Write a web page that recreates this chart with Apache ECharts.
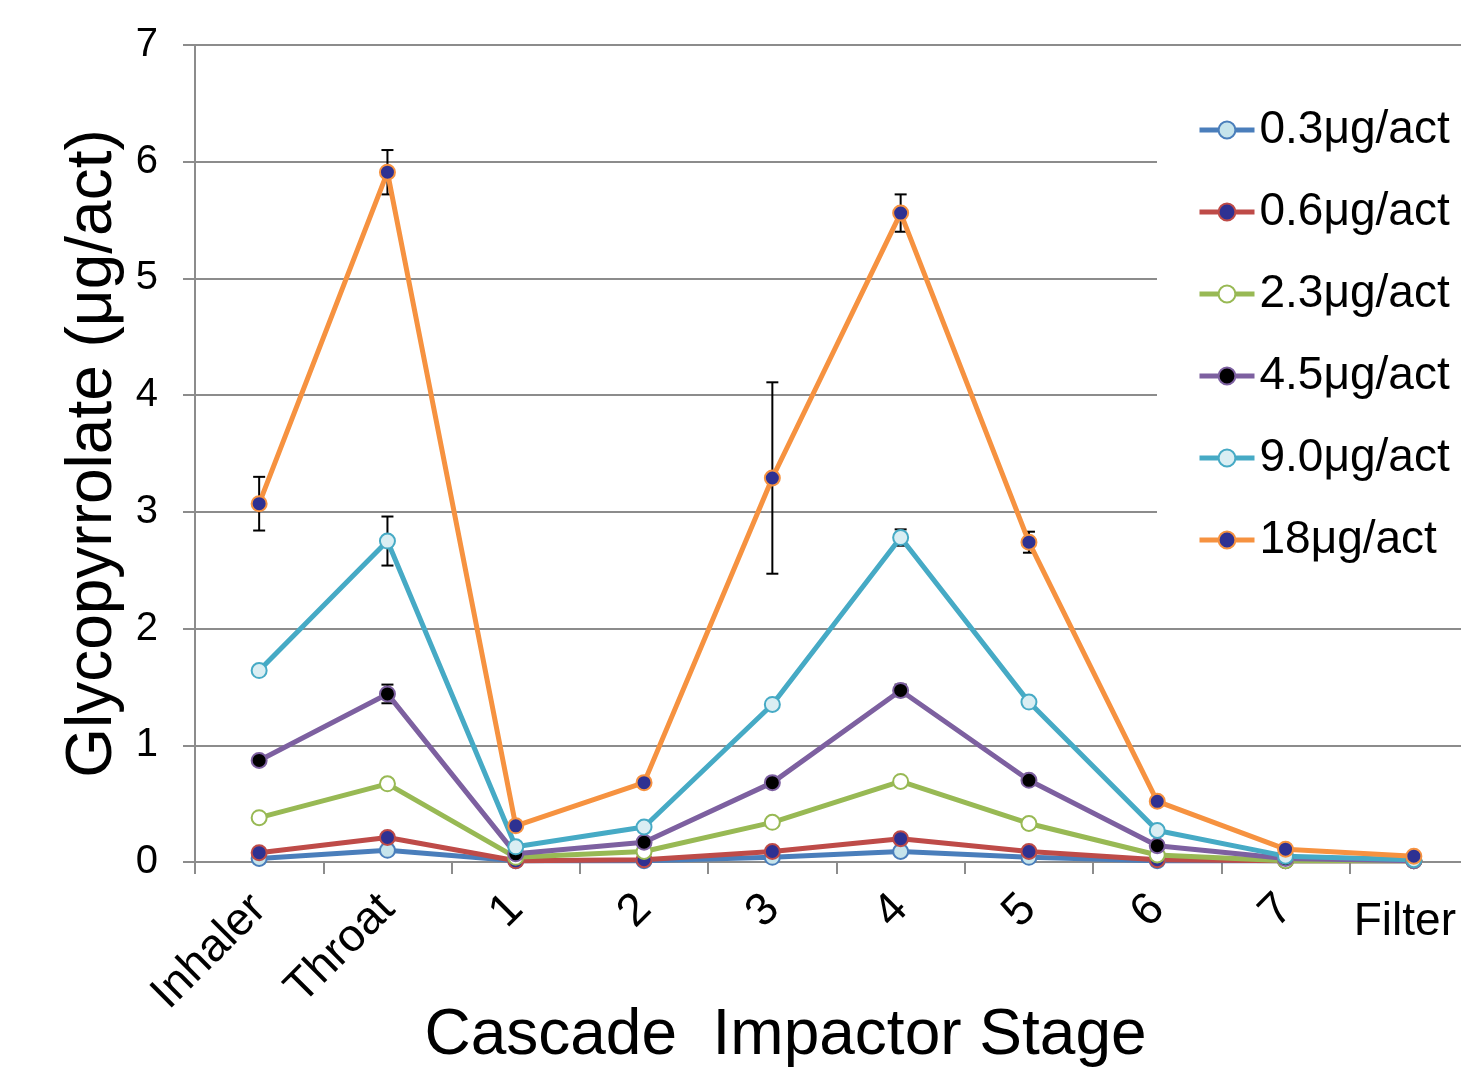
<!DOCTYPE html>
<html>
<head>
<meta charset="utf-8">
<script src="https://cdn.jsdelivr.net/npm/echarts@6/dist/echarts.min.js"></script>
<style>
  html, body { margin: 0; padding: 0; background: #fff; }
  #chart { width: 1461px; height: 1074px; }
</style>
</head>
<body>
<div id="chart"></div>
<script>
var stages = ['Inhaler', 'Throat', '1', '2', '3', '4', '5', '6', '7', 'Filter'];

var names = ['0.3\u03bcg/act', '0.6\u03bcg/act', '2.3\u03bcg/act', '4.5\u03bcg/act', '9.0\u03bcg/act', '18\u03bcg/act'];

var dose03 = [0.03, 0.10, 0.01, 0.01, 0.04, 0.09, 0.04, 0.01, 0.01, 0.01];
var dose06 = [0.08, 0.21, 0.01, 0.02, 0.09, 0.20, 0.09, 0.02, 0.01, 0.01];
var dose23 = [0.38, 0.67, 0.04, 0.09, 0.34, 0.69, 0.33, 0.06, 0.01, 0.01];
var dose45 = [0.87, 1.44, 0.07, 0.17, 0.68, 1.47, 0.70, 0.14, 0.03, 0.01];
var dose90 = [1.64, 2.75, 0.13, 0.30, 1.35, 2.78, 1.37, 0.27, 0.05, 0.02];
var dose18 = [3.07, 5.91, 0.31, 0.68, 3.29, 5.56, 2.74, 0.52, 0.11, 0.05];

// standard deviations (only where a bar is visible)
var sd45 = [0, 0.08, 0, 0, 0, 0.05, 0, 0, 0, 0];
var sd90 = [0, 0.21, 0, 0, 0.03, 0.07, 0, 0, 0, 0];
var sd18 = [0.23, 0.19, 0, 0, 0.82, 0.16, 0.09, 0, 0, 0];

var values = [dose03, dose06, dose23, dose45, dose90, dose18];
var lineColors = ['#4a7ebb', '#be4b48', '#98b954', '#7d60a0', '#46aac5', '#f69240'];
var fillColors = ['#c6e4ec', '#2e3192', '#ffffff', '#000000', '#daeef3', '#2e3192'];

var font = 'Liberation Sans, Arial, sans-serif';
var gray = '#8c8c8c';

var chart = echarts.init(document.getElementById('chart'));

var series = names.map(function (n, i) {
    return {
        name: n,
        type: 'line',
        xAxisIndex: 0,
        data: values[i],
        symbol: 'circle',
        symbolSize: 15,
        z: 3,
        color: lineColors[i],
        lineStyle: { color: lineColors[i], width: 5 },
        itemStyle: { color: fillColors[i], borderColor: lineColors[i], borderWidth: 2 },
        emphasis: { disabled: true },
        animation: false
    };
});

var errData = [];
[[dose45, sd45], [dose90, sd90], [dose18, sd18]].forEach(function (p) {
    p[0].forEach(function (v, k) {
        if (p[1][k] > 0) errData.push([k, v, p[1][k]]);
    });
});

series.push({
    type: 'custom',
    xAxisIndex: 0,
    z: 2,
    silent: true,
    animation: false,
    data: errData,
    renderItem: function (params, api) {
        var x = api.value(0), v = api.value(1), e = api.value(2);
        var top = api.coord([x, v + e]);
        var bot = api.coord([x, v - e]);
        var st = { stroke: '#000', lineWidth: 2 };
        return {
            type: 'group',
            children: [
                { type: 'line', shape: { x1: top[0], y1: top[1], x2: bot[0], y2: bot[1] }, style: st },
                { type: 'line', shape: { x1: top[0] - 6, y1: top[1], x2: top[0] + 6, y2: top[1] }, style: st },
                { type: 'line', shape: { x1: bot[0] - 6, y1: bot[1], x2: bot[0] + 6, y2: bot[1] }, style: st }
            ]
        };
    }
});

var option = {
    backgroundColor: '#fff',
    animation: false,
    grid: { left: 195, top: 45, bottom: 212, right: -17, outerBoundsMode: 'none', containLabel: false },
    legend: {
        data: names,
        orient: 'vertical',
        left: 1157,
        top: 85,
        padding: [19, 20, 20, 40],
        backgroundColor: '#fff',
        itemWidth: 55,
        itemHeight: 21,
        itemGap: 30,
        lineStyle: { width: 5 },
        textStyle: { fontFamily: font, fontSize: 46, color: '#000', lineHeight: 52 }
    },
    xAxis: [{
        type: 'category',
        data: stages,
        boundaryGap: true,
        name: 'Cascade  Impactor Stage',
        nameLocation: 'middle',
        nameGap: 142,
        nameMoveOverlap: false,
        nameTextStyle: { fontFamily: font, fontSize: 64, color: '#000', padding: [0, 102, 0, 0] },
        axisLine: { lineStyle: { color: gray, width: 2 } },
        axisTick: { show: true, length: 12, lineStyle: { color: gray, width: 2 } },
        axisLabel: {
            interval: 0,
            rotate: 45,
            margin: 40,
            fontFamily: font,
            fontSize: 46,
            color: '#000',
            formatter: function (s) { return s === 'Filter' ? '' : s; }
        },
        splitLine: { show: false }
    }, {
        type: 'category',
        data: stages,
        position: 'bottom',
        boundaryGap: true,
        axisLine: { show: false },
        axisTick: { show: false },
        splitLine: { show: false },
        axisLabel: {
            interval: 0,
            margin: 37,
            fontFamily: font,
            fontSize: 46,
            color: '#000',
            padding: [0, 18, 0, 0],
            formatter: function (s) { return s === 'Filter' ? s : ''; }
        }
    }],
    yAxis: {
        type: 'value',
        min: 0,
        max: 7,
        interval: 1,
        name: 'Glycopyrrolate (\u03bcg/act)',
        nameLocation: 'middle',
        nameGap: 70,
        nameMoveOverlap: false,
        nameTextStyle: { fontFamily: font, fontSize: 64, color: '#000' },
        axisLine: { show: true, lineStyle: { color: gray, width: 2 } },
        axisTick: { show: true, length: 12, lineStyle: { color: gray, width: 2 } },
        axisLabel: { margin: 37, fontFamily: font, fontSize: 40, color: '#000' },
        splitLine: { lineStyle: { color: gray, width: 2 } }
    },
    series: series
};

chart.setOption(option);
window.addEventListener('resize', chart.resize);
</script>
</body>
</html>
